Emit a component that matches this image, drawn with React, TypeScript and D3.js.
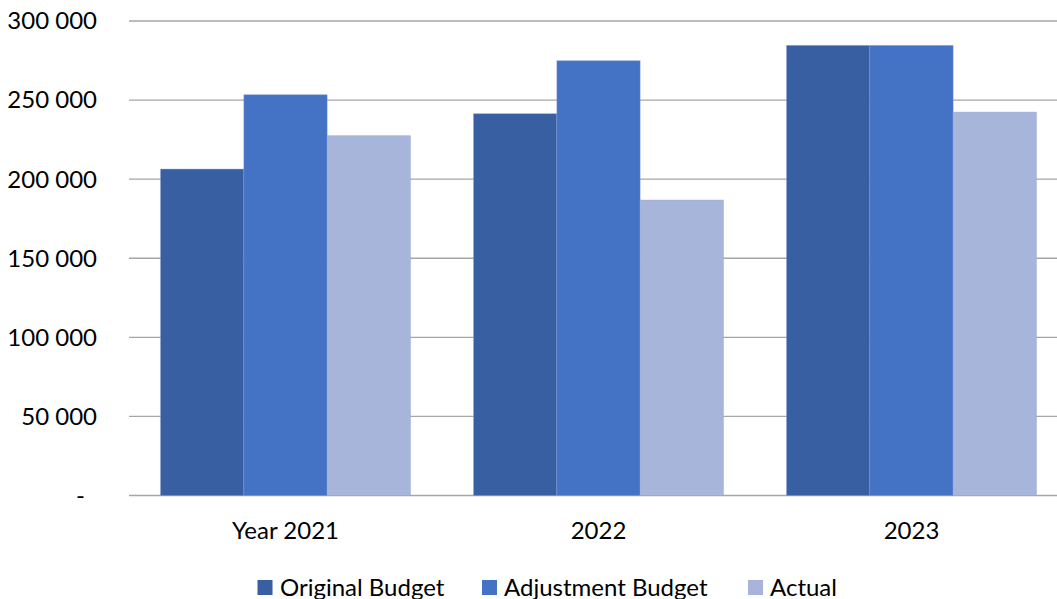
import React from "react";
import * as d3 from "d3";

const categories = ["Year 2021", "2022", "2023"];
const seriesNames = ["Original Budget", "Adjustment Budget", "Actual"];
const originalBudget = [206400, 241400, 284600];
const adjustmentBudget = [253400, 274900, 284600];
const actual = [227500, 186800, 242400];
const yTicks = [0, 50000, 100000, 150000, 200000, 250000, 300000];
const colors = ["#375FA2", "#4472C4", "#A8B5DA"];

const W = 1057;
const H = 599;
const left = 129;
const right = 1068;
const top = 21;
const bottom = 495.5;
const font = "Lato, 'Open Sans', sans-serif";
const fs = 24;

export default function App() {
  const series = [originalBudget, adjustmentBudget, actual];
  const step = (right - left) / categories.length;
  const groupW = step * (250 / 313);
  const x1 = d3.scaleBand<number>().domain([0, 1, 2]).range([0, groupW]).padding(0);
  const y = d3.scaleLinear().domain([0, 300000]).range([bottom, top]);
  const fmt = (v: number) => (v === 0 ? "-" : d3.format(",")(v).replace(/,/g, " "));

  const legendItems = [
    { sx: 257.5, tx: 280 },
    { sx: 482, tx: 504 },
    { sx: 748, tx: 770 },
  ];

  return (
    <svg width={W} height={H} style={{ position: "fixed", left: 0, top: 0, background: "#fff" }} fontFamily={font}>
      <rect x={0} y={0} width={W} height={H} fill="#fff" />
      {yTicks.map((t) => (
        <g key={t}>
          <line x1={left} x2={right} y1={y(t)} y2={y(t)} stroke="#a6a6a6" strokeWidth={1.3} />
          <text x={t === 0 ? 85 : 97} y={y(t)} dy="0.35em" textAnchor="end" fontSize={fs} fill="#000">
            {fmt(t)}
          </text>
        </g>
      ))}
      {categories.map((c, i) => {
        const gx = left + step * i + (step - groupW) / 2;
        return (
          <g key={c}>
            {series.map((s, j) => (
              <rect
                key={j}
                x={gx + (x1(j) as number)}
                y={y(s[i])}
                width={x1.bandwidth()}
                height={y(0) - y(s[i])}
                fill={colors[j]}
                stroke="#8fa6d6"
                strokeOpacity={0.5}
                strokeWidth={0.8}
              />
            ))}
            <text x={left + step * i + step / 2} y={539} textAnchor="middle" fontSize={fs} fill="#000">
              {c}
            </text>
          </g>
        );
      })}
      {seriesNames.map((n, j) => (
        <g key={n}>
          <rect x={legendItems[j].sx} y={580} width={15} height={15} fill={colors[j]} />
          <text x={legendItems[j].tx} y={595.5} fontSize={fs} fill="#000">
            {n}
          </text>
        </g>
      ))}
    </svg>
  );
}
